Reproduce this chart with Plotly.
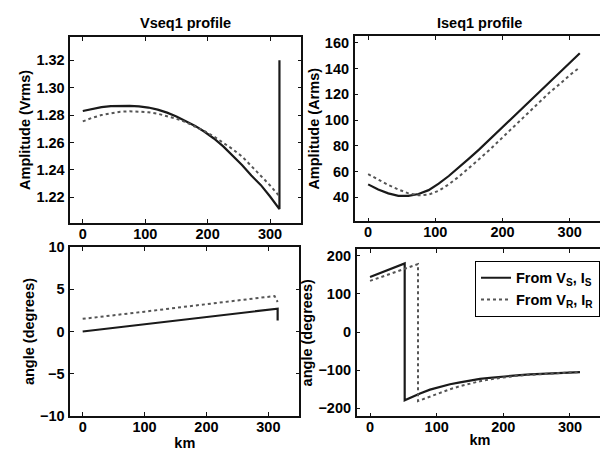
import plotly.graph_objects as go

W, H = 608, 451
OFF = 8  # browser body margin
FW, FH = W - OFF, H - OFF

# ---- data ----
km_v_s = [0, 15, 30, 45, 60, 75, 90, 105, 120, 135, 150, 165, 180, 195, 210, 225, 240, 255, 270, 285, 300, 315, 315]
vseq_s = [1.2830, 1.2845, 1.2858, 1.2866, 1.2868, 1.2867, 1.2863, 1.2855, 1.2840, 1.2818, 1.2790, 1.2758, 1.2721,
          1.2678, 1.2629, 1.2571, 1.2507, 1.2436, 1.2358, 1.2290, 1.2205, 1.2113, 1.3200]
km_v_r = [0, 15, 30, 45, 60, 75, 90, 105, 120, 135, 150, 165, 180, 195, 210, 225, 240, 255, 270, 285, 300, 315]
vseq_r = [1.2754, 1.2780, 1.2800, 1.2814, 1.2824, 1.2828, 1.2827, 1.2821, 1.2810, 1.2794, 1.2773, 1.2748, 1.2718,
          1.2683, 1.2644, 1.2600, 1.2551, 1.2498, 1.2424, 1.2357, 1.2286, 1.2207]

km_i = [0, 15, 30, 45, 60, 75, 90, 105, 120, 135, 150, 165, 180, 195, 210, 225, 240, 255, 270, 285, 300, 315]
iseq_s = [50, 46, 43, 41, 41, 42.5, 45.5, 50.5, 56.5, 63, 70, 77, 84.5, 92, 99.5, 107, 114.5, 122, 129.5, 137, 144.5, 152]
iseq_r = [58, 53.5, 49.5, 46, 43, 41.5, 42, 45, 50, 56, 62.5, 69.5, 76.5, 84, 91.5, 99, 106.5, 114, 121.5, 128, 135, 141]

km_va_s = [0, 50, 100, 150, 200, 250, 300, 315, 315]
vang_s = [0.0, 0.42, 0.85, 1.28, 1.70, 2.13, 2.56, 2.70, 1.30]
km_va_r = [0, 50, 100, 150, 200, 250, 300, 310, 315]
vang_r = [1.5, 1.9, 2.35, 2.8, 3.25, 3.7, 4.12, 4.2, 3.5]

km_ia_s = [0, 52, 52, 60, 75, 90, 105, 120, 135, 150, 165, 180, 195, 210, 225, 240, 255, 270, 285, 300, 315]
iang_s = [144, 180, -179, -172, -161, -151, -143, -137, -132, -127, -123, -120, -117, -115, -113, -111, -109.5, -108, -107, -106, -105]
km_ia_r = [0, 72, 72, 90, 105, 120, 135, 150, 165, 180, 195, 210, 225, 240, 255, 270, 285, 300, 315]
iang_r = [134, 178, -181, -169, -159, -150, -142, -135, -129, -124, -120, -117, -114, -112, -110, -108.5, -107, -106, -105]

titles = ["Vseq1 profile", "Iseq1 profile"]
ylabels = ["Amplitude (Vrms)", "Amplitude (Arms)", "angle (degrees)", "angle (degrees)"]
legend_names = ["From V<sub>S</sub>, I<sub>S</sub>", "From V<sub>R</sub>, I<sub>R</sub>"]

SOLID = "#1a1a1a"
DOT = "#555555"
FAM = "Liberation Sans, Arial, sans-serif"
FONT = dict(family=FAM, size=14.5, color="black", weight="bold")

fig = go.Figure()

def add_pair(xs, ys, xr, yr, ax, showleg=False):
    fig.add_trace(go.Scatter(x=xs, y=ys, mode="lines", line=dict(color=SOLID, width=2.2),
                             xaxis="x" + ax, yaxis="y" + ax, name=legend_names[0], showlegend=showleg))
    fig.add_trace(go.Scatter(x=xr, y=yr, mode="lines", line=dict(color=DOT, width=2, dash="dot"),
                             xaxis="x" + ax, yaxis="y" + ax, name=legend_names[1], showlegend=showleg))

add_pair(km_v_s, vseq_s, km_v_r, vseq_r, "")
add_pair(km_i, iseq_s, km_i, iseq_r, "2")
add_pair(km_va_s, vang_s, km_va_r, vang_r, "3")
add_pair(km_ia_s, iang_s, km_ia_r, iang_r, "4", showleg=True)

def fx(p):
    return (p - OFF) / FW

def fy(p):
    return 1 - (p - OFF) / FH

boxes = [
    (70.3, 301.3, 29.7, 222.7),
    (354.7, 603.3, 29.0, 221.0),
    (70.3, 299.3, 247.7, 423.0),
    (356.7, 603.3, 250.0, 423.3),
]
yranges = [[1.2012, 1.3371], [21.25, 165.25], [-10, 10], [-221, 217]]
yticks = [[1.22, 1.24, 1.26, 1.28, 1.30, 1.32], [40, 60, 80, 100, 120, 140, 160],
          [-10, -5, 0, 5, 10], [-200, -100, 0, 100, 200]]
ytickfmt = [".2f", "", "", ""]

common = dict(showline=True, linecolor="#111", linewidth=1.5, mirror="ticks", ticks="inside",
              ticklen=4, tickcolor="#111", showgrid=False, zeroline=False, tickfont=FONT)

layout = {}
for i, (l, r, t, b) in enumerate(boxes):
    sfx = "" if i == 0 else str(i + 1)
    xa = dict(common, domain=[fx(l), fx(r)], range=[-20, 350], tickvals=[0, 100, 200, 300],
              anchor="y" + sfx, ticklabelstandoff=-3)
    if i >= 2:
        xa["title"] = dict(text="km", font=FONT, standoff=0)
    ya = dict(common, domain=[fy(b), fy(t)], range=yranges[i], tickvals=yticks[i], anchor="x" + sfx,
              title=dict(text=ylabels[i], font=FONT, standoff=2), ticklabelstandoff=1)
    if ytickfmt[i]:
        ya["tickformat"] = ytickfmt[i]
    layout["xaxis" + sfx] = xa
    layout["yaxis" + sfx] = ya

fig.update_layout(**layout)
fig.update_layout(
    width=FW, height=FH, margin=dict(l=0, r=0, t=0, b=0),
    paper_bgcolor="white", plot_bgcolor="white",
    font=FONT,
    legend=dict(x=fx(600), y=fy(262), xanchor="right", yanchor="top",
                bordercolor="black", borderwidth=1, bgcolor="white",
                font=dict(family=FAM, size=14.5, color="black", weight="bold"),
                tracegroupgap=0, itemwidth=30),
    annotations=[
        dict(text=titles[0], x=fx((70.3 + 301.3) / 2), y=fy(15), xref="paper", yref="paper",
             showarrow=False, font=FONT, xanchor="center", yanchor="middle"),
        dict(text=titles[1], x=fx((354.7 + 603.3) / 2), y=fy(15), xref="paper", yref="paper",
             showarrow=False, font=FONT, xanchor="center", yanchor="middle"),
    ],
)

fig.write_html("out.html")
